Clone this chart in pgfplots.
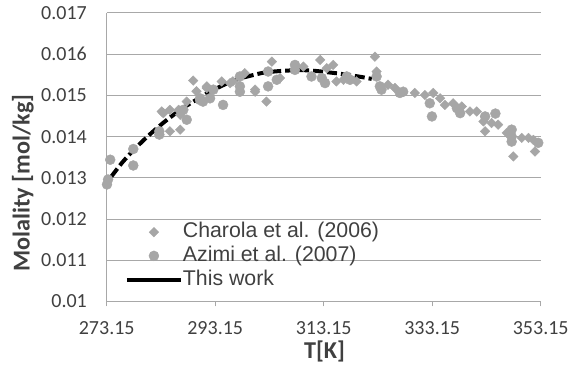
\documentclass[border=0pt]{standalone}
\usepackage{fontspec}
\setmainfont{Carlito}
\newfontfamily\legfont{Liberation Sans}
\usepackage{pgfplots}
\pgfplotsset{compat=1.18}
\definecolor{mk}{RGB}{166,166,166}
\definecolor{gr}{RGB}{168,168,168}
\definecolor{tx}{RGB}{64,64,64}
\pgfplotsset{
  markleg/.style={legend image code/.code={\draw[mark repeat=2,mark phase=2,##1] plot coordinates {(0pt,0pt) (27pt,0pt) (54pt,0pt)};}},
  lineleg/.style={legend image code/.code={\draw[black, line width=4pt, solid] (0pt,0pt) -- (54pt,0pt);}},
}
\begin{document}
\fontsize{20}{24}\selectfont
\begin{tikzpicture}
\useasboundingbox (0,0) rectangle (572pt,366pt);
\begin{axis}[
  at={(106.7pt,64.5pt)}, anchor=south west,
  scale only axis, width=434pt, height=288.5pt,
  xmin=273.15, xmax=353.15, ymin=0.01, ymax=0.017,
  scaled y ticks=false, scaled x ticks=false,
  xtick={273.15,293.15,313.15,333.15,353.15},
  xticklabels={273.15,293.15,313.15,333.15,353.15},
  ytick={0.01,0.011,0.012,0.013,0.014,0.015,0.016,0.017},
  yticklabels={0.01,0.011,0.012,0.013,0.014,0.015,0.016,0.017},
  axis x line*=bottom, axis y line*=left,
  axis line style={gr, line width=1pt, -},
  ymajorgrids, grid style={gr, line width=1pt},
  x tick style={gr, line width=1pt}, xtick align=outside, major tick length=5pt,
  y tick style={draw=none},
  xticklabel style={font=\fontsize{20}{24}\selectfont, text=tx, yshift=-8pt},
  yticklabel style={font=\fontsize{20}{24}\selectfont, text=tx, xshift=-13pt},
  xlabel={\textbf{T[K]}}, ylabel={\textbf{Molality [mol/kg]}},
  xlabel style={font=\fontsize{24.2}{28}\selectfont, text=tx, at={(axis description cs:0.502,-0.172)}, anchor=center},
  ylabel style={font=\fontsize{24.2}{28}\selectfont, text=tx, at={(axis description cs:-0.193,0.41)}, anchor=center},
  legend style={at={(axis description cs:0.042,0.275)}, anchor=north west, draw=none, fill=none,
    font=\legfont\fontsize{21.3}{25}\selectfont, text=tx, inner sep=0pt, outer sep=0pt, row sep=3.7pt,
    nodes={inner sep=0pt, text height=15.5pt, text depth=4.5pt},
    /tikz/every even column/.append style={column sep=4pt},
    cells={anchor=west}},
  legend cell align=left,
  clip=false,
]
\addplot[only marks, mark=square*, mark size=3.4pt, color=mk, mark options={rotate=45, draw=mk, fill=mk}, markleg]
coordinates {
(283.3,0.01461)(283.6,0.01457)(284.8,0.01465)(284.8,0.01413)(286.7,0.01417)(286.7,0.01453)
(286.4,0.01465)(287.9,0.01485)(289.1,0.01536)(289.7,0.01510)(291.6,0.01522)(291.6,0.01518)
(294.35,0.01534)(295.9,0.01530)(296.4,0.01534)(298.6,0.01554)(300.5,0.01509)(300.5,0.01514)
(302.6,0.01485)(303.6,0.01582)(305.1,0.01542)(309.4,0.01570)(312.5,0.01586)(313.7,0.01566)
(314.9,0.01574)(315.5,0.01534)(316.8,0.01538)(319.2,0.01534)(322.6,0.01594)(322.9,0.01558)
(325.0,0.01526)(326.3,0.01518)(329.95,0.01506)(331.8,0.01501)(333.35,0.01506)(334.6,0.01493)
(335.5,0.01477)(337.0,0.01481)(338.6,0.01473)(340.1,0.01461)(341.35,0.01461)(342.6,0.01437)
(342.9,0.01413)(344.1,0.01433)(345.3,0.01429)(346.9,0.01409)(348.1,0.01352)(349.65,0.01397)
(350.9,0.01397)(351.8,0.01392)(352.1,0.01364)
};
\addlegendentry{Charola et al. (2006)}
\addplot[only marks, mark=*, mark size=5pt, color=mk, mark options={draw=mk, fill=mk}, markleg]
coordinates {
(273.2,0.01284)(273.4,0.01296)(273.8,0.01344)(278.05,0.01330)(278.05,0.01370)(282.85,0.01413)
(282.85,0.01405)(287.27,0.01465)(287.9,0.01441)(290.35,0.01493)(290.9,0.01485)(290.35,0.01489)
(292.8,0.01514)(292.2,0.01493)(294.6,0.01477)(297.7,0.01546)(297.7,0.01522)(297.7,0.01509)
(302.9,0.01558)(302.9,0.01522)(304.5,0.01538)(307.85,0.01574)(307.85,0.01562)(310.9,0.01546)
(312.8,0.01542)(313.4,0.01530)(317.4,0.01546)(318.0,0.01538)(322.9,0.01546)(323.5,0.01522)
(323.8,0.01514)(327.2,0.01506)(327.8,0.01509)(332.7,0.01481)(333.1,0.01449)(337.7,0.01469)
(338.3,0.01457)(342.9,0.01449)(344.8,0.01456)(347.8,0.01417)(347.8,0.01400)(347.8,0.01388)
(352.7,0.01385)
};
\addlegendentry{Azimi et al. (2007)}
\addplot[black, line width=4pt, dash pattern=on 10pt off 4pt, smooth, lineleg]
coordinates {
(274.0,0.01303)(276.0,0.01337)(278.0,0.01366)(280.0,0.01392)(282.0,0.01416)(284.0,0.01438)
(286.0,0.01458)(288.0,0.01476)(290.0,0.01492)(292.0,0.01508)(294.0,0.01521)(296.0,0.01533)
(298.0,0.01542)(300.0,0.01549)(302.0,0.01555)(304.0,0.01558)(306.0,0.01560)(308.0,0.01561)
(310.0,0.01561)(312.0,0.01559)(314.0,0.01556)(316.0,0.01553)(318.0,0.01549)(320.0,0.01545)
(322.0,0.01540)
};
\addlegendentry{This work}
\end{axis}
\end{tikzpicture}
\end{document}
